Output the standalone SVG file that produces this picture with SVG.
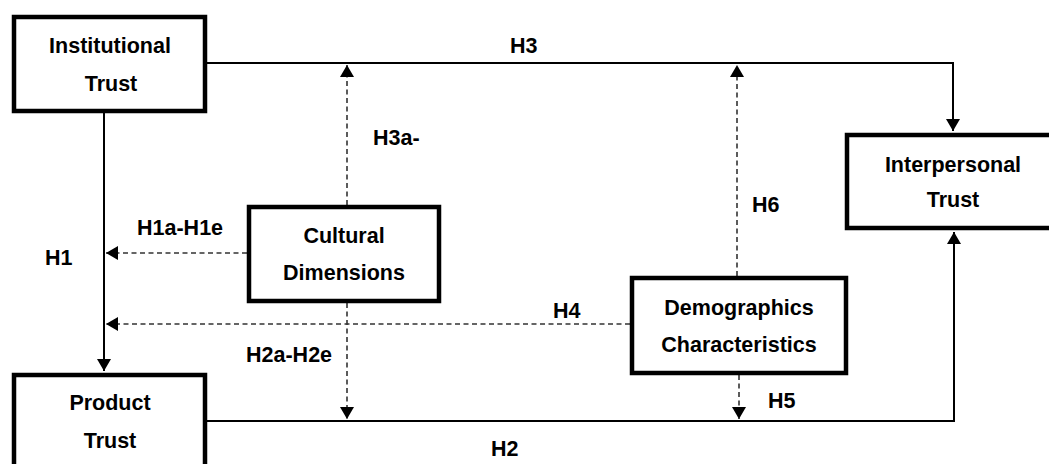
<svg xmlns="http://www.w3.org/2000/svg" width="1049" height="464" viewBox="0 0 1049 464">
<style>
.box{fill:#fff;stroke:#000;stroke-width:4.5}
.t{font-family:"Liberation Sans",Arial,sans-serif;font-weight:bold;font-size:21.5px;fill:#000;text-anchor:middle}
.lb{font-family:"Liberation Sans",Arial,sans-serif;font-weight:bold;font-size:21.5px;fill:#000}
.solid{fill:none;stroke:#000;stroke-width:2}
.dash{fill:none;stroke:#333;stroke-width:1.6;stroke-dasharray:5,3.5}
</style>
<defs>
<marker id="ah" viewBox="0 0 12 14" refX="12" refY="7" markerWidth="12" markerHeight="14" markerUnits="userSpaceOnUse" orient="auto">
<path d="M0,0 L12,7 L0,14 Z" fill="#000"/>
</marker>
</defs>
<g id="connectors">
<path class="solid" d="M207,63 H953 V131" marker-end="url(#ah)"/>
<path class="solid" d="M104,113 V371" marker-end="url(#ah)"/>
<path class="solid" d="M207,421 H954 V232" marker-end="url(#ah)"/>
<path class="dash" d="M347,205 V65" marker-end="url(#ah)"/>
<path class="dash" d="M737,276 V65" marker-end="url(#ah)"/>
<path class="dash" d="M247,253 H106" marker-end="url(#ah)"/>
<path class="dash" d="M630,324 H106" marker-end="url(#ah)"/>
<path class="dash" d="M347,303 V419" marker-end="url(#ah)"/>
<path class="dash" d="M739,375 V419" marker-end="url(#ah)"/>
</g>
<g id="labels">
<text class="lb" x="510" y="53">H3</text>
<text class="lb" x="373" y="145">H3a-</text>
<text class="lb" x="752" y="212">H6</text>
<text class="lb" x="137" y="235">H1a-H1e</text>
<text class="lb" x="45" y="265">H1</text>
<text class="lb" x="553" y="318">H4</text>
<text class="lb" x="246" y="362">H2a-H2e</text>
<text class="lb" x="768" y="408">H5</text>
<text class="lb" x="491" y="456">H2</text>
</g>
<g id="institutional">
<rect class="box" x="14" y="17" width="191" height="94"/>
<text class="t" x="110" y="53">Institutional</text>
<text class="t" x="111" y="91">Trust</text>
</g>
<g id="interpersonal">
<rect class="box" x="847" y="135" width="220" height="93"/>
<text class="t" x="953" y="172">Interpersonal</text>
<text class="t" x="953" y="207">Trust</text>
</g>
<g id="cultural">
<rect class="box" x="249" y="207" width="190" height="94"/>
<text class="t" x="344" y="243">Cultural</text>
<text class="t" x="344" y="280">Dimensions</text>
</g>
<g id="demographics">
<rect class="box" x="632" y="278" width="214" height="95"/>
<text class="t" x="739" y="315">Demographics</text>
<text class="t" x="739" y="352">Characteristics</text>
</g>
<g id="product">
<rect class="box" x="14" y="375" width="191" height="100"/>
<text class="t" x="110" y="410">Product</text>
<text class="t" x="110" y="448">Trust</text>
</g>
</svg>
